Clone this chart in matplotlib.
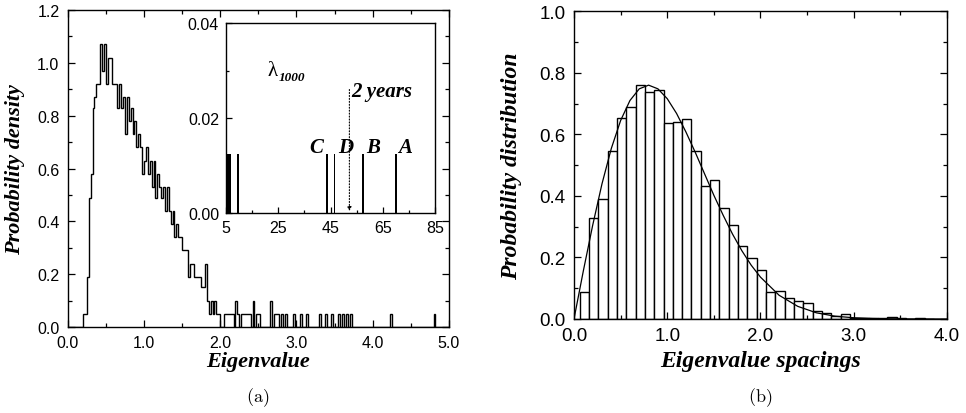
import numpy as np
import matplotlib
matplotlib.use("Agg")
import matplotlib.pyplot as plt
from matplotlib.ticker import MultipleLocator, FixedLocator, FormatStrFormatter

# ---- panel (a): eigenvalue density, bins of 0.025 ----
bin_w = 0.025
dense_start = 0.2
dense_h = [0.05, 0.05, 0.19, 0.49, 0.58, 0.83, 0.87, 0.92, 0.92, 1.07,
           0.97, 1.07, 0.92, 1.02, 1.02, 0.92, 0.92, 0.92, 0.83, 0.92,
           0.83, 0.87, 0.73, 0.87, 0.78, 0.83, 0.73, 0.78, 0.68, 0.73,
           0.68, 0.58, 0.63, 0.68, 0.58, 0.63, 0.53, 0.63, 0.49, 0.58,
           0.53, 0.49, 0.53, 0.44, 0.53, 0.44, 0.39, 0.44, 0.34, 0.39,
           0.34, 0.34, 0.29, 0.29, 0.29, 0.19, 0.24, 0.24, 0.19, 0.19,
           0.19, 0.19, 0.15, 0.15, 0.24, 0.10, 0.05, 0.10, 0.05, 0.10,
           0.05, 0.05]
tail_lo = [2.050, 2.075, 2.100, 2.125, 2.150, 2.200, 2.225, 2.275, 2.300,
           2.325, 2.350, 2.375, 2.425, 2.475, 2.500, 2.650, 2.700, 2.725,
           2.750, 2.800, 2.850, 2.950, 3.050, 3.125, 3.300, 3.375, 3.450,
           3.550, 3.600, 3.650, 3.700, 4.225, 4.800]
tail_h = [0.05, 0.05, 0.05, 0.05, 0.05, 0.10, 0.05, 0.05, 0.05,
          0.05, 0.05, 0.05, 0.10, 0.05, 0.05, 0.10, 0.05, 0.05,
          0.05, 0.05, 0.05, 0.05, 0.05, 0.05, 0.05, 0.05, 0.05,
          0.05, 0.05, 0.05, 0.05, 0.05, 0.05]

# inset: largest eigenvalues
inset_eigs = [5.6, 6.1, 6.6, 9.7, 43.6, 46.5, 57.3, 70.0]
inset_h = 0.0124
inset_tags = ["C", "D", "B", "A"]
tag_x = [39.7, 50.8, 61.1, 73.5]
tag_y = 0.0117
two_years = 52.2

# ---- panel (b): spacing distribution ----
sp_centres = [0.11, 0.21, 0.31, 0.41, 0.51, 0.61, 0.71, 0.81, 0.91, 1.01,
              1.11, 1.21, 1.31, 1.41, 1.51, 1.61, 1.71, 1.81, 1.91, 2.01,
              2.11, 2.21, 2.31, 2.41, 2.51, 2.61, 2.71, 2.81, 2.91, 3.01,
              3.11, 3.21, 3.31, 3.41, 3.51, 3.61, 3.71, 3.81]
sp_h = [0.089, 0.327, 0.389, 0.547, 0.654, 0.690, 0.759, 0.737, 0.743, 0.638,
        0.641, 0.650, 0.547, 0.433, 0.452, 0.361, 0.306, 0.238, 0.199, 0.160,
        0.087, 0.090, 0.067, 0.060, 0.052, 0.027, 0.018, 0.011, 0.016, 0.004,
        0.002, 0.004, 0.002, 0.005, 0.002, 0.001, 0.002, 0.001]
curve_s = [0.0, 0.1, 0.2, 0.3, 0.4, 0.5, 0.6, 0.7, 0.8, 0.9, 1.0, 1.1, 1.2,
           1.3, 1.4, 1.5, 1.6, 1.7, 1.8, 1.9, 2.0, 2.2, 2.4, 2.6, 2.8, 3.0,
           3.2, 3.4, 3.6, 3.8, 4.0]
curve_p = [0.0, 0.156, 0.304, 0.439, 0.554, 0.645, 0.710, 0.748, 0.760,
           0.748, 0.716, 0.668, 0.608, 0.542, 0.472, 0.402, 0.337, 0.276,
           0.222, 0.175, 0.136, 0.077, 0.041, 0.020, 0.009, 0.004, 0.0016,
           0.0006, 0.0002, 0.0001, 0.0]

serif_bi = dict(family="Liberation Serif", weight="bold", style="italic")
sans = "Liberation Sans"
plt.rcParams["mathtext.fontset"] = "cm"


def style_axes(ax, fs, pad, major=5, minor=3, sides=True):
    ax.tick_params(which="both", direction="in", top=sides, right=sides,
                   labelsize=fs, pad=pad, width=0.9)
    ax.tick_params(which="major", length=major)
    ax.tick_params(which="minor", length=minor)
    for lab in ax.get_xticklabels() + ax.get_yticklabels():
        lab.set_family(sans)
    for sp in ax.spines.values():
        sp.set_linewidth(1.0)


fig = plt.figure(figsize=(9.66, 4.14), dpi=100)

# panel (a)
ax1 = fig.add_axes([0.0702, 0.2077, 0.3944, 0.7657])
edges = np.round(np.linspace(0, 5, 201), 4)
vals = np.zeros(200)
i0 = int(round(dense_start / bin_w))
vals[i0:i0 + len(dense_h)] = dense_h
for lo, h in zip(tail_lo, tail_h):
    vals[int(round(lo / bin_w))] = h
ax1.stairs(vals, edges, color="black", lw=1.0, baseline=0)
ax1.set_xlim(0, 5)
ax1.set_ylim(0, 1.2)
ax1.xaxis.set_major_locator(MultipleLocator(1.0))
ax1.xaxis.set_minor_locator(MultipleLocator(0.5))
ax1.yaxis.set_major_locator(MultipleLocator(0.2))
ax1.yaxis.set_minor_locator(MultipleLocator(0.1))
ax1.xaxis.set_major_formatter(FormatStrFormatter("%.1f"))
ax1.yaxis.set_major_formatter(FormatStrFormatter("%.1f"))
style_axes(ax1, 11.5, 6)
ax1.set_xlabel("Eigenvalue", fontsize=16, **serif_bi)
ax1.set_ylabel("Probability density", fontsize=16, **serif_bi)
ax1.xaxis.set_label_coords(0.5, -0.075)
ax1.yaxis.set_label_coords(-0.112, 0.5)

# inset
axin = fig.add_axes([0.2340, 0.4831, 0.2164, 0.4589])
axin.bar(inset_eigs, [inset_h] * len(inset_eigs), width=0.75,
         color="black", align="center")
axin.set_xlim(5, 85)
axin.set_ylim(0, 0.04)
axin.xaxis.set_major_locator(FixedLocator([5, 25, 45, 65, 85]))
axin.xaxis.set_minor_locator(FixedLocator([15, 35, 55, 75]))
axin.yaxis.set_major_locator(MultipleLocator(0.02))
axin.yaxis.set_minor_locator(MultipleLocator(0.01))
axin.yaxis.set_major_formatter(FormatStrFormatter("%.2f"))
style_axes(axin, 11.5, 5, major=4, minor=2.5, sides=False)
axin.annotate("", xy=(two_years, 0.0004), xytext=(two_years, 0.026),
              arrowprops=dict(arrowstyle="-|>", linestyle=":", lw=0.8,
                              color="black", mutation_scale=6,
                              shrinkA=0, shrinkB=0))
axin.text(two_years + 0.9, 0.0257, "2 years", fontsize=15, va="center",
          ha="left", **serif_bi)
for t, x in zip(inset_tags, tag_x):
    axin.text(x, tag_y, t, fontsize=15, ha="center", va="bottom", **serif_bi)
axin.text(21.0, 0.0300, "λ", fontsize=15, family="Liberation Serif",
          ha="left", va="center")
axin.annotate("1000", xy=(21.0, 0.0300), xytext=(8, -5),
              textcoords="offset points", fontsize=9.5, ha="left",
              va="center", **serif_bi)

# panel (b)
ax2 = fig.add_axes([0.5942, 0.2271, 0.3861, 0.7432])
ax2.bar(sp_centres, sp_h, width=0.1, facecolor="white",
        edgecolor="black", lw=1.0)
ax2.plot(curve_s, curve_p, color="black", lw=0.9)
ax2.set_xlim(0, 4)
ax2.set_ylim(0, 1.0)
ax2.xaxis.set_major_locator(MultipleLocator(1.0))
ax2.xaxis.set_minor_locator(MultipleLocator(0.5))
ax2.yaxis.set_major_locator(MultipleLocator(0.2))
ax2.yaxis.set_minor_locator(MultipleLocator(0.1))
ax2.xaxis.set_major_formatter(FormatStrFormatter("%.1f"))
ax2.yaxis.set_major_formatter(FormatStrFormatter("%.1f"))
style_axes(ax2, 13.5, 6)
ax2.set_xlabel("Eigenvalue spacings", fontsize=17, **serif_bi)
ax2.set_ylabel("Probability distribution", fontsize=17, **serif_bi)
ax2.xaxis.set_label_coords(0.5, -0.1)
ax2.yaxis.set_label_coords(-0.14, 0.5)

fig.text(0.267, 0.04, r"$\mathrm{(a)}$", fontsize=13, ha="center", va="center")
fig.text(0.787, 0.04, r"$\mathrm{(b)}$", fontsize=13, ha="center", va="center")

fig.savefig("out.png", dpi=100)
